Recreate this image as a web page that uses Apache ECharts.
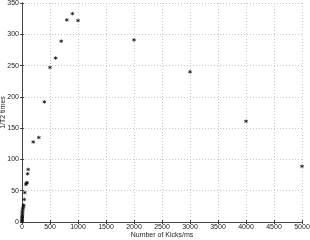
<!DOCTYPE html>
<html><head><meta charset="utf-8">
<script src="https://cdn.jsdelivr.net/npm/echarts@6/dist/echarts.min.js"></script>
<style>html,body{margin:0;padding:0;background:#fff}#c{width:310px;height:240px}</style>
</head><body><div id="c"></div>
<script>
var kicks = [1,2,3,4,5,6,7,8,9,10,20,25,30,40,50,70,80,90,100,110,200,300,400,500,600,700,800,900,1000,2000,3000,4000,5000];
var rates = [1,2,4,6,8,10,12,15,17,20,22,25,27,36,47,60,62,63,77,84,128,135,192,247,262,289,323,333,322,291,240,161,89];
var xTicks = {min:0, max:5000, step:500};
var yTicks = {min:0, max:350, step:50};
var xName = 'Number of Kicks/ms';
var yName = '1/T2 times';

var data = kicks.map(function(k,i){return [k, rates[i]];});
var chart = echarts.init(document.getElementById('c'));
var font = 'Liberation Sans';
var grid = {left:22, right:8, top:3, bottom:18, containLabel:false, outerBoundsMode:'none'};
var axisLine = {show:true, lineStyle:{color:'#444', width:1}};
var fmt = function(v){return String(v);};
chart.setOption({
  animation:false,
  backgroundColor:'#fff',
  grid:grid,
  xAxis:[{
    type:'value', min:xTicks.min, max:xTicks.max, interval:xTicks.step,
    name:xName, nameLocation:'middle', nameGap:10, nameMoveOverlap:false,
    nameTextStyle:{fontFamily:font, fontSize:7, color:'#222'},
    axisLine:axisLine, axisTick:{inside:true, length:2, lineStyle:{color:'#444'}},
    axisLabel:{fontFamily:font, fontSize:7, color:'#222', margin:2, formatter:fmt},
    splitLine:{show:true, lineStyle:{color:'#c8c8c8', type:[1,2], width:1}}
  },{
    type:'value', position:'top', min:xTicks.min, max:xTicks.max, interval:xTicks.step,
    axisLine:axisLine, axisTick:{inside:true, length:2, lineStyle:{color:'#444'}},
    axisLabel:{show:false}, splitLine:{show:false}
  }],
  yAxis:[{
    type:'value', min:yTicks.min, max:yTicks.max, interval:yTicks.step,
    name:yName, nameLocation:'middle', nameGap:15, nameMoveOverlap:false,
    nameTextStyle:{fontFamily:font, fontSize:7, color:'#222'},
    axisLine:axisLine, axisTick:{inside:true, length:2, lineStyle:{color:'#444'}},
    axisLabel:{fontFamily:font, fontSize:7, color:'#222', margin:3, formatter:fmt},
    splitLine:{show:true, lineStyle:{color:'#c8c8c8', type:[1,2], width:1}}
  },{
    type:'value', position:'right', min:yTicks.min, max:yTicks.max, interval:yTicks.step,
    axisLine:axisLine, axisTick:{inside:true, length:2, lineStyle:{color:'#444'}},
    axisLabel:{show:false}, splitLine:{show:false}
  }],
  series:[{
    type:'scatter', xAxisIndex:0, yAxisIndex:0, data:data,
    symbol:'path://M0,-5L0,5M-4.33,-2.5L4.33,2.5M-4.33,2.5L4.33,-2.5',
    symbolSize:3.5,
    itemStyle:{color:'#111', borderColor:'#111', borderWidth:1}
  }]
});
</script></body></html>
